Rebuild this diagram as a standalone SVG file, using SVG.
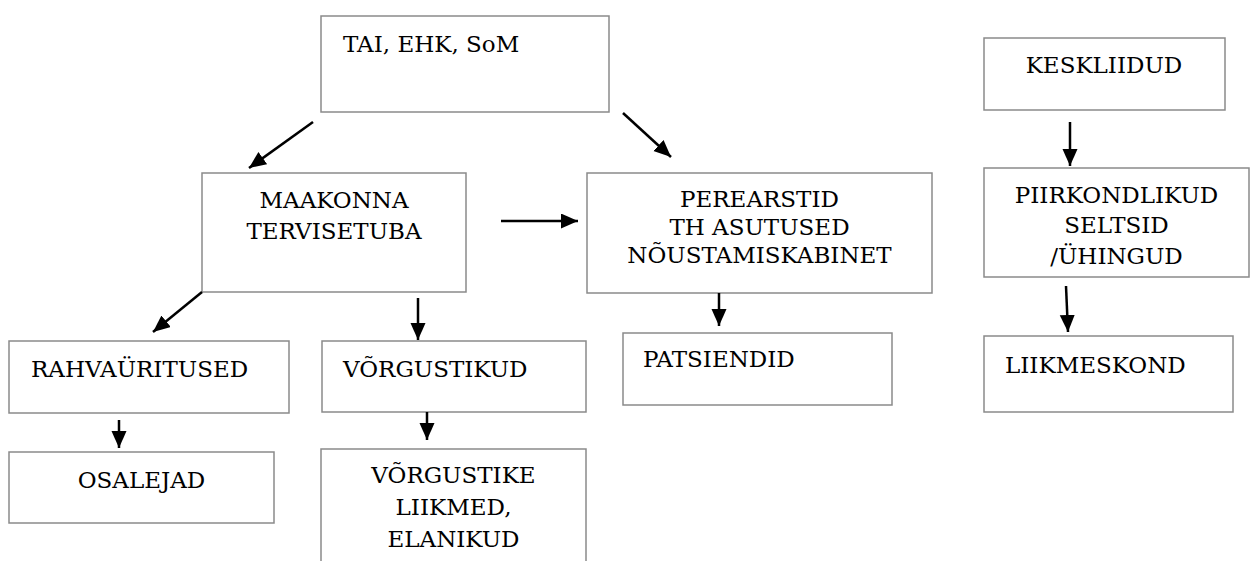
<svg xmlns="http://www.w3.org/2000/svg" width="1251" height="561" viewBox="0 0 1251 561">
  <style>
    .box { fill: #ffffff; stroke: #8a8a8a; stroke-width: 1.5; }
    text { font-family: 'DejaVu Serif', 'Liberation Serif', serif; font-size: 23px; fill: #000000; }
    .mid { text-anchor: middle; }
    .arrow { stroke: #000000; stroke-width: 2.5; fill: none; marker-end: url(#head); }
  </style>
  <defs>
    <marker id="head" markerUnits="userSpaceOnUse" markerWidth="18" markerHeight="16" refX="17" refY="7.5" orient="auto">
      <path d="M0,0 L17,7.5 L0,15 Z" fill="#000000"/>
    </marker>
  </defs>
  <rect width="1251" height="561" fill="#ffffff"/>

  <g id="node-tai">
    <rect class="box" x="321" y="16" width="288" height="96"/>
    <text x="343" y="52">TAI, EHK, SoM</text>
  </g>

  <g id="node-maakonna">
    <rect class="box" x="202" y="173" width="264" height="119"/>
    <text class="mid" x="334" y="208">MAAKONNA</text>
    <text class="mid" x="334" y="239">TERVISETUBA</text>
  </g>

  <g id="node-perearstid">
    <rect class="box" x="587" y="173" width="345" height="120"/>
    <text class="mid" x="759.5" y="207">PEREARSTID</text>
    <text class="mid" x="759.5" y="235">TH ASUTUSED</text>
    <text class="mid" x="759.5" y="263">NÕUSTAMISKABINET</text>
  </g>

  <g id="node-rahvauritused">
    <rect class="box" x="9" y="341" width="280" height="72"/>
    <text x="31" y="377">RAHVAÜRITUSED</text>
  </g>

  <g id="node-vorgustikud">
    <rect class="box" x="322" y="341" width="264" height="71"/>
    <text x="343" y="377">VÕRGUSTIKUD</text>
  </g>

  <g id="node-osalejad">
    <rect class="box" x="9" y="452" width="265" height="71"/>
    <text class="mid" x="141.5" y="488">OSALEJAD</text>
  </g>

  <g id="node-vorgustike-liikmed">
    <rect class="box" x="321" y="449" width="265" height="130"/>
    <text class="mid" x="453.5" y="483">VÕRGUSTIKE</text>
    <text class="mid" x="453.5" y="515">LIIKMED,</text>
    <text class="mid" x="453.5" y="547">ELANIKUD</text>
  </g>

  <g id="node-patsiendid">
    <rect class="box" x="623" y="333" width="269" height="72"/>
    <text x="643" y="367">PATSIENDID</text>
  </g>

  <g id="node-keskliidud">
    <rect class="box" x="984" y="38" width="241" height="72"/>
    <text class="mid" x="1104" y="73">KESKLIIDUD</text>
  </g>

  <g id="node-piirkondlikud">
    <rect class="box" x="984" y="168" width="265" height="109"/>
    <text class="mid" x="1116.5" y="203">PIIRKONDLIKUD</text>
    <text class="mid" x="1116.5" y="233">SELTSID</text>
    <text class="mid" x="1116.5" y="264">/ÜHINGUD</text>
  </g>

  <g id="node-liikmeskond">
    <rect class="box" x="984" y="336" width="249" height="76"/>
    <text x="1005" y="373">LIIKMESKOND</text>
  </g>

  <g id="connectors">
    <line class="arrow" x1="313" y1="122" x2="249" y2="168"/>
    <line class="arrow" x1="623" y1="113" x2="671" y2="157"/>
    <line class="arrow" x1="501" y1="221" x2="578" y2="221"/>
    <line class="arrow" x1="202" y1="292" x2="153" y2="332"/>
    <line class="arrow" x1="418" y1="298" x2="418" y2="340"/>
    <line class="arrow" x1="119" y1="420" x2="119" y2="448"/>
    <line class="arrow" x1="427" y1="412" x2="427" y2="440"/>
    <line class="arrow" x1="719" y1="293" x2="719" y2="326"/>
    <line class="arrow" x1="1070" y1="122" x2="1070" y2="166"/>
    <line class="arrow" x1="1066" y1="286" x2="1068" y2="332"/>
  </g>
</svg>
